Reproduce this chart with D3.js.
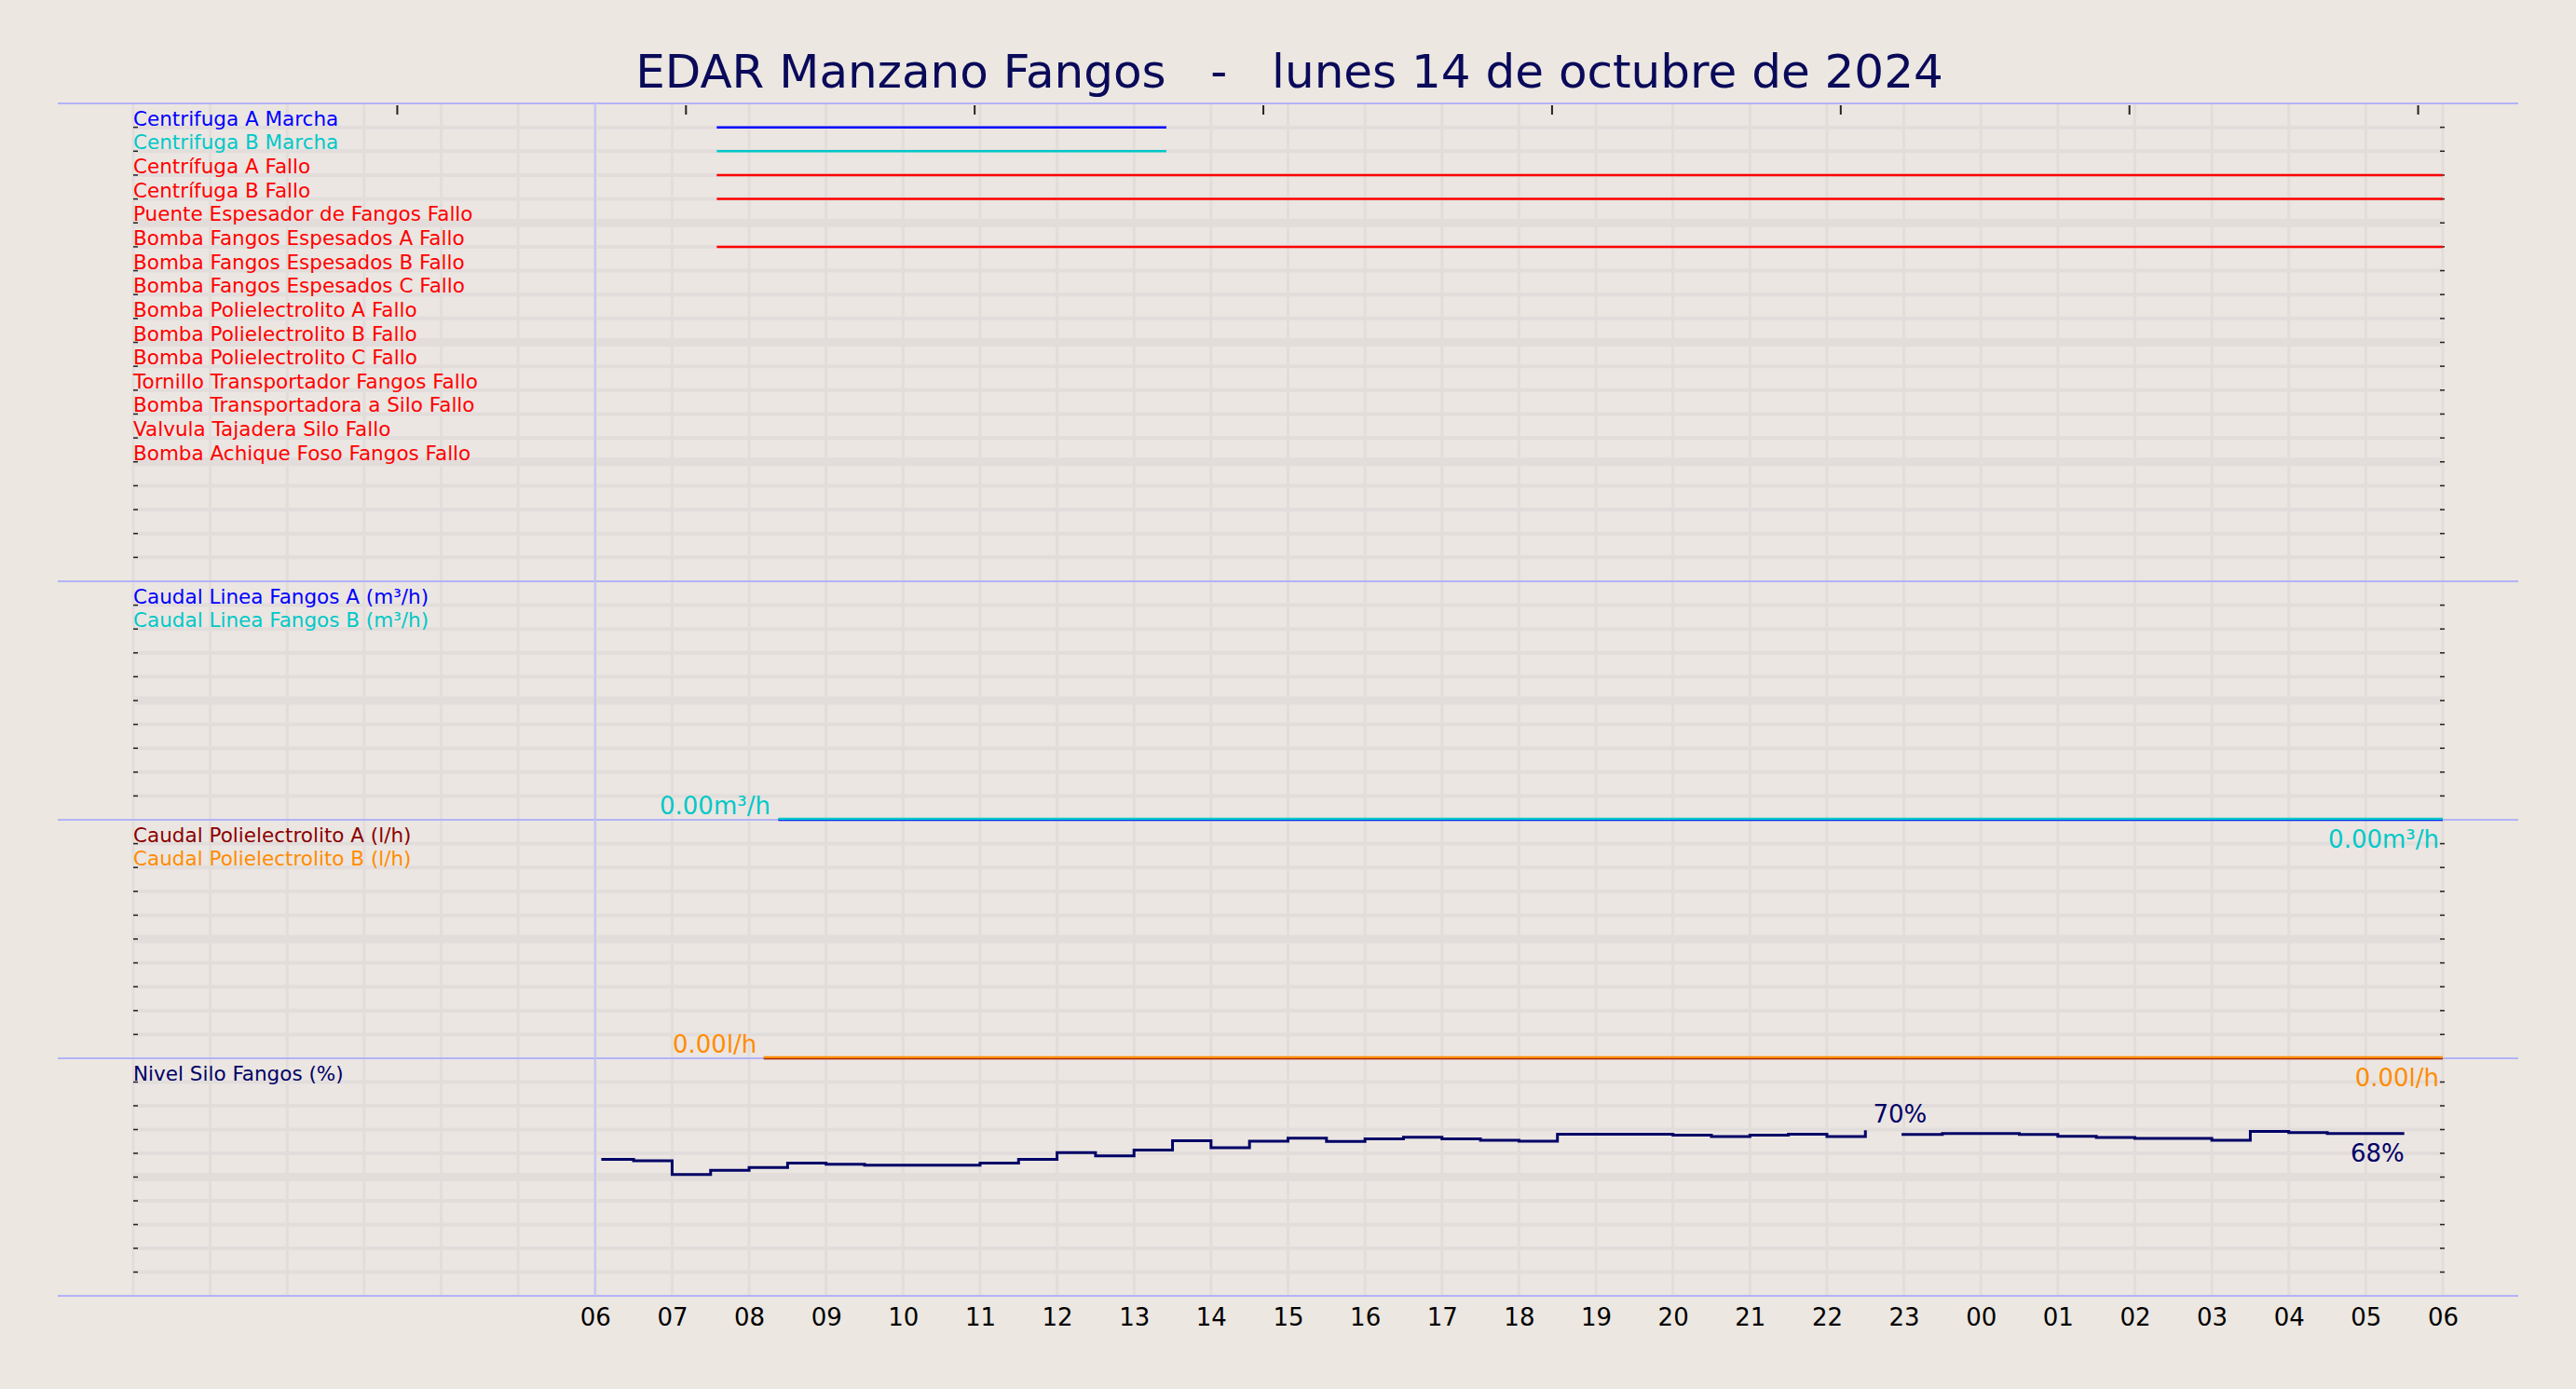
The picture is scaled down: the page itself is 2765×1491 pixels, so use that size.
<!DOCTYPE html>
<html><head><meta charset="utf-8">
<script src="https://cdn.jsdelivr.net/npm/d3@7"></script>
<style>body{margin:0;background:#ece7e1;font-family:"DejaVu Sans",sans-serif}</style>
</head><body><div id="chart"></div>
<script>
// signals panel
var signalNames = ["Centrifuga A Marcha","Centrifuga B Marcha","Centrífuga A Fallo","Centrífuga B Fallo",
  "Puente Espesador de Fangos Fallo","Bomba Fangos Espesados A Fallo","Bomba Fangos Espesados B Fallo",
  "Bomba Fangos Espesados C Fallo","Bomba Polielectrolito A Fallo","Bomba Polielectrolito B Fallo",
  "Bomba Polielectrolito C Fallo","Tornillo Transportador Fangos Fallo","Bomba Transportadora a Silo Fallo",
  "Valvula Tajadera Silo Fallo","Bomba Achique Foso Fangos Fallo"];
var signalColors = ["#0000ff","#00c8c8"].concat(d3.range(13).map(() => "#ff0000"));
// [start hour, end hour] per signal (hours from 00:00 of the 14th)
var signalOn = [[7.58,13.42],[7.58,13.42],[7.58,30],[7.58,30],null,[7.58,30],null,null,null,null,null,null,null,null,null];

var caudalNames = ["Caudal Linea Fangos A (m³/h)","Caudal Linea Fangos B (m³/h)"];
var caudalColors = ["#0000ff","#00c8c8"];
var caudalSeries = [[8.38,0],[30,0]];
var polyNames = ["Caudal Polielectrolito A (l/h)","Caudal Polielectrolito B (l/h)"];
var polyColors = ["#8b0000","#ff8c00"];
var polySeries = [[8.19,0],[30,0]];

var levelTimes = [6.08,6.5,7,7.5,8,8.5,9,9.5,10,10.5,11,11.5,12,12.5,13,13.5,14,14.5,15,15.5,16,16.5,17,17.5,18,18.5,19,19.5,20,20.5,21,21.5,22,22.5,22.53,22.97,23,23.5,24,24.5,25,25.5,26,26.5,27,27.5,28,28.5,29,29.5];
var levelValues = [57.5,56.9,51.1,52.8,54.0,55.9,55.4,55.0,55.0,55.0,55.9,57.5,60.3,58.9,61.4,65.3,62.4,65.1,66.4,65.0,66.1,66.8,66.1,65.5,65.1,68.0,68.0,68.0,67.6,67.1,67.6,68.0,67.1,69.7,null,67.9,67.9,68.3,68.3,67.9,67.2,66.7,66.3,66.3,65.5,69.2,68.7,68.3,68.3,68.3];
var levelEnd = 29.5;

var hourLabels = ["06","07","08","09","10","11","12","13","14","15","16","17","18","19","20","21","22","23","00","01","02","03","04","05","06"];
var topTicks = [3.43,7.18,10.93,14.68,18.43,22.18,25.93,29.68];

var W = 2765, H = 1491;
var svg = d3.select("#chart").append("svg").attr("width", W).attr("height", H);
var x = d3.scaleLinear().domain([0, 30]).range([143, 2622]);
var panels = [[111,624,20],[624,880,10],[880,1136,10],[1136,1391,10]];

svg.append("rect").attr("x",143).attr("y",111).attr("width",2479).attr("height",1280).attr("fill","#ebe6e2");

// vertical grid
svg.append("g").selectAll("line").data(d3.range(0,31)).enter().append("line")
  .attr("x1", d => x(d)).attr("x2", d => x(d)).attr("y1",111).attr("y2",1391)
  .attr("stroke","#e2dddb").attr("stroke-width",3);

// horizontal grid per panel
panels.forEach(function(p){
  var g = svg.append("g");
  d3.range(1, p[2]).forEach(function(i){
    var y = p[0] + (p[1]-p[0]) * i / p[2];
    g.append("line").attr("x1",143).attr("x2",2622).attr("y1",y).attr("y2",y)
      .attr("stroke","#e2dddb").attr("stroke-width", i % 5 == 0 ? 9 : 4);
    g.append("line").attr("x1",2619).attr("x2",2624).attr("y1",y).attr("y2",y).attr("stroke","#222").attr("stroke-width",1.5);
    g.append("line").attr("x1",143).attr("x2",148).attr("y1",y).attr("y2",y).attr("stroke","#222").attr("stroke-width",1.5);
  });
});
// panel separators
[111,624,880,1136,1391].forEach(function(y){
  svg.append("line").attr("x1",62).attr("x2",2703).attr("y1",y).attr("y2",y).attr("stroke","#b3b3f7").attr("stroke-width",2);
});
svg.append("line").attr("x1",x(6)).attr("x2",x(6)).attr("y1",111).attr("y2",1391).attr("stroke","#c4c4f5").attr("stroke-width",2);

// top ticks
svg.append("g").selectAll("line").data(topTicks).enter().append("line")
  .attr("x1", d => x(d)).attr("x2", d => x(d)).attr("y1",113).attr("y2",123).attr("stroke","#222").attr("stroke-width",2);

// x axis labels
var xAxis = d3.axisBottom(x).tickValues(d3.range(6,31)).tickFormat((d,i) => hourLabels[i]).tickSize(0).tickPadding(14);
var ax = svg.append("g").attr("transform","translate(0,1391)").call(xAxis);
ax.select(".domain").remove();
ax.selectAll("text").attr("font-size",26).attr("font-family","DejaVu Sans").attr("fill","#000");

function rowY(p, i){ return p[0] + (p[1]-p[0]) * i / p[2]; }
function labels(p, names, colors){
  svg.append("g").selectAll("text").data(names).enter().append("text")
    .attr("x",143).attr("y",(d,i) => rowY(p,i+1) - 2).attr("font-size",21.5).attr("fill",(d,i) => colors[i]).text(d => d);
}

// panel 1 signals
labels(panels[0], signalNames, signalColors);
signalOn.forEach(function(s,i){
  if(!s) return;
  var y = rowY(panels[0], i+1);
  svg.append("line").attr("x1",x(s[0])).attr("x2",x(s[1])).attr("y1",y).attr("y2",y).attr("stroke",signalColors[i]).attr("stroke-width",2.5);
});

// flow panels
function flowPanel(p, names, colors, series, unit, lblX){
  labels(p, names, colors);
  var y = d3.scaleLinear().domain([0,100]).range([p[1],p[0]]);
  var line = d3.line().x(d => x(d[0])).y(d => y(d[1]));
  svg.append("path").datum(series).attr("d",line).attr("fill","none").attr("stroke",colors[0]).attr("stroke-width",2.5);
  svg.append("path").datum(series).attr("d",line).attr("fill","none").attr("stroke",colors[1]).attr("stroke-width",2.5).attr("transform","translate(0,-1)");
  svg.append("text").attr("x",lblX).attr("y",p[1]-6).attr("font-size",26).attr("fill",colors[1]).text("0.00" + unit);
  svg.append("text").attr("x",x(30)-4).attr("y",p[1]+30).attr("text-anchor","end").attr("font-size",26).attr("fill",colors[1]).text("0.00" + unit);
}
flowPanel(panels[1], caudalNames, caudalColors, caudalSeries, "m³/h", 708);
flowPanel(panels[2], polyNames, polyColors, polySeries, "l/h", 722);

// level panel
var p4 = panels[3];
labels(p4, ["Nivel Silo Fangos (%)"], ["#000066"]);
var yL = d3.scaleLinear().domain([0,100]).range([p4[1],p4[0]]);
var levelData = levelTimes.map((t,i) => [t, levelValues[i]]);
levelData.push([levelEnd, levelValues[levelValues.length-1]]);
var lvl = d3.line().defined(d => d[1] != null).curve(d3.curveStepAfter).x(d => x(d[0])).y(d => yL(d[1]));
svg.append("path").datum(levelData).attr("d",lvl).attr("fill","none").attr("stroke","#000066").attr("stroke-width",3);
svg.append("text").attr("x",x(22.6)).attr("y",yL(69.7)-8).attr("font-size",26).attr("fill","#000066").text("70%");
svg.append("text").attr("x",x(levelEnd)).attr("y",yL(68.3)+30).attr("text-anchor","end").attr("font-size",26).attr("fill","#000066").text("68%");

// title
svg.append("text").attr("x",1384).attr("y",94).attr("text-anchor","middle").attr("font-size",50).attr("fill","#0a0a5a")
  .attr("xml:space","preserve").style("white-space","pre").text("EDAR Manzano Fangos   -   lunes 14 de octubre de 2024");
</script></body></html>
